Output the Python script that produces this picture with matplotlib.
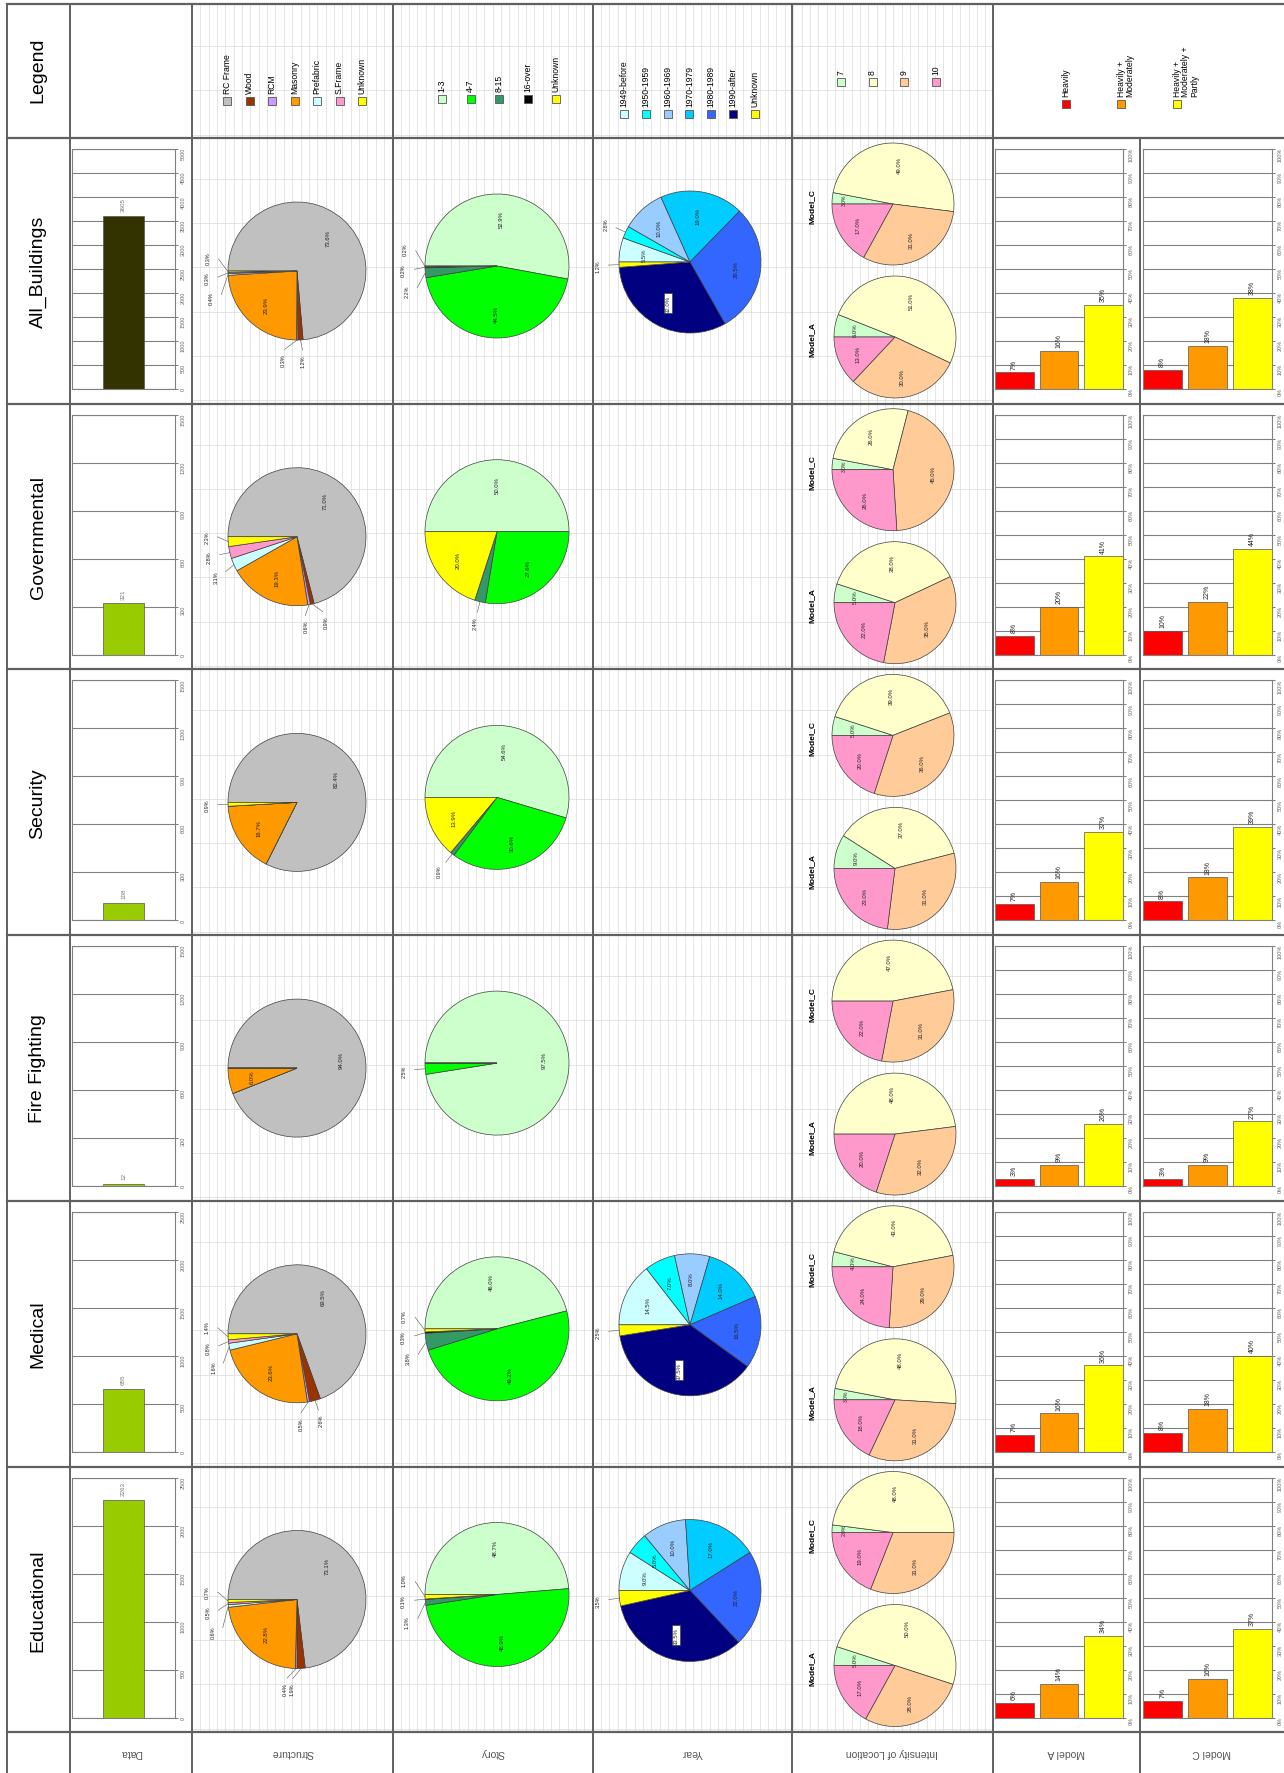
import matplotlib
matplotlib.use('Agg')
import matplotlib.pyplot as plt
import numpy as np
from matplotlib.patches import Rectangle

plt.rcParams['font.family'] = ['Liberation Sans', 'DejaVu Sans']

# ---------------- data ----------------
rows = ["All_Buildings", "Governmental", "Security", "Fire Fighting", "Medical", "Educational"]
bottom_labels = ["Data", "Structure", "Story", "Year", "Intensity of Location", "Model A", "Model C"]

data_counts = [3605, 321, 108, 12, 655, 2263]
data_axis_max = [5000, 1500, 1500, 1500, 2500, 2500]
data_axis_step = [500, 300, 300, 300, 500, 500]

structure_labels = ["RC Frame", "Wood", "RCM", "Masonry", "Prefabric", "S.Frame", "Unknown"]
structure_pct = [
    [73.6, 1.2, 0.3, 23.9, 0.4, 0.3, 0.3],
    [71.0, 0.9, 0.6, 19.3, 3.1, 2.8, 2.3],
    [82.4, 0.0, 0.0, 16.7, 0.0, 0.0, 0.9],
    [94.0, 0.0, 0.0, 6.0, 0.0, 0.0, 0.0],
    [69.5, 2.6, 0.5, 23.6, 1.6, 0.8, 1.4],
    [73.1, 1.9, 0.4, 22.8, 0.6, 0.5, 0.7],
]

story_labels = ["1-3", "4-7", "8-15", "16-over", "Unknown"]
story_pct = [
    [52.9, 44.5, 2.2, 0.2, 0.2],
    [50.0, 27.6, 2.4, 0.0, 20.0],
    [54.6, 30.6, 0.9, 0.0, 13.9],
    [97.5, 2.5, 0.0, 0.0, 0.0],
    [46.0, 49.2, 3.8, 0.3, 0.7],
    [48.7, 48.9, 1.3, 0.1, 1.0],
]

year_labels = ["1949-before", "1950-1959", "1960-1969", "1970-1979", "1980-1989", "1990-after", "Unknown"]
year_pct = [
    [5.5, 2.8, 10.0, 19.0, 29.5, 32.0, 1.2],
    None,
    None,
    None,
    [14.5, 7.0, 8.0, 14.0, 16.5, 37.5, 2.5],
    [9.0, 5.0, 10.0, 17.0, 22.0, 33.5, 3.5],
]

intensity_labels = ["7", "8", "9", "10"]
intensity_C = [
    [3, 49, 31, 17],
    [3, 26, 45, 26],
    [5, 39, 36, 20],
    [0, 47, 31, 22],
    [4, 43, 29, 24],
    [2, 48, 31, 19],
]
intensity_A = [
    [6, 51, 30, 13],
    [5, 38, 35, 22],
    [9, 37, 31, 23],
    [0, 48, 32, 20],
    [3, 48, 31, 18],
    [5, 50, 28, 17],
]

damage_labels = ["Heavily", "Heavily +\nModerately", "Heavily +\nModerately +\nPartly"]
modelA = [[7, 16, 35], [8, 20, 41], [7, 16, 37], [3, 9, 26], [7, 16, 36], [6, 14, 34]]
modelC = [[8, 18, 38], [10, 22, 44], [8, 18, 39], [3, 9, 27], [8, 18, 40], [7, 16, 37]]

# ---------------- styles ----------------
structure_colors = ['#C0C0C0', '#993300', '#CC99FF', '#FF9900', '#CCFFFF', '#FF99CC', '#FFFF00']
story_colors = ['#CCFFCC', '#00FF00', '#339966', '#000000', '#FFFF00']
year_colors = ['#CCFFFF', '#00FFFF', '#99CCFF', '#00CCFF', '#3366FF', '#000080', '#FFFF00']
intensity_colors = ['#CCFFCC', '#FFFFCC', '#FFCC99', '#FF99CC']
damage_colors = ['#FF0000', '#FF9900', '#FFFF00']
data_colors = ['#333300'] + ['#99CC00'] * 5

W, H = 1284, 1774
fig = plt.figure(figsize=(W / 100, H / 100), dpi=100)
bg = fig.add_axes([0, 0, 1, 1])
bg.set_xlim(0, W)
bg.set_ylim(H, 0)
bg.axis('off')


def add_ax(x0, y0, x1, y1):
    return fig.add_axes([x0 / W, 1 - y1 / H, (x1 - x0) / W, (y1 - y0) / H])


ROW0 = 139.0
ROWH = 265.7
row_tops = [ROW0 + ROWH * k for k in range(len(rows))]
BOTTOM = ROW0 + ROWH * len(rows)
col_lines = [7, 70, 192, 393, 593, 792, 993]

# excel-like background grid
for x in np.arange(192, 993, 8.35):
    bg.plot([x, x], [5, BOTTOM], color='#DADADA', lw=0.5, zorder=0)
for y in np.arange(ROW0 - 2 * 46, BOTTOM, ROWH / 6):
    bg.plot([192, 993], [y, y], color='#DADADA', lw=0.5, zorder=0)

# table lines
LC = '#606060'
bg.plot([7, W], [5, 5], color=LC, lw=1.6)
for y in row_tops + [BOTTOM]:
    bg.plot([7, W], [y, y], color=LC, lw=1.6)
for x in col_lines:
    bg.plot([x, x], [5, H], color=LC, lw=1.4)
bg.plot([1140, 1140], [ROW0, H], color=LC, lw=1.4)

# row titles
bg.text(38, 70, "Legend", rotation=90, ha='center', va='center', fontsize=14)
for r, name in enumerate(rows):
    bg.text(38, row_tops[r] + ROWH / 2, name, rotation=90, ha='center', va='center', fontsize=14)

# bottom labels
bottom_centers = [131, 292, 493, 692, 892, 1066, 1212]
for cx, lab in zip(bottom_centers, bottom_labels):
    bg.text(cx, 1753, lab, rotation=180, ha='center', va='center', fontsize=7.5, color='#555555')


# ---------------- legends ----------------
def legend_entries(xs, ysq, labels, colors, fs=6.2, multi=False):
    for x, lab, c in zip(xs, labels, colors):
        bg.add_patch(Rectangle((x - 4, ysq - 4), 8, 8, facecolor=c, edgecolor='#555555', lw=0.6))
        if multi:
            bg.text(x - 4.5, ysq - 8, lab, rotation=90, ha='left', va='bottom', fontsize=fs,
                    multialignment='left', linespacing=1.0)
        else:
            bg.text(x, ysq - 8, lab, rotation=90, ha='center', va='bottom', fontsize=fs)


legend_entries([227 + 22.5 * i for i in range(7)], 102, structure_labels, structure_colors)
legend_entries([442 + 28.5 * i for i in range(5)], 100, story_labels, story_colors)
legend_entries([624 + 21.8 * i for i in range(7)], 115, year_labels, year_colors)
legend_entries([841 + 31.5 * i for i in range(4)], 83, intensity_labels, intensity_colors)
legend_entries([1066, 1121, 1177], 105, damage_labels, damage_colors, multi=True)


# ---------------- pies ----------------
def draw_pie(cx, cy, r, vals, colors, white_box_idx=None, inside_all=False):
    pad = 1.55
    ax = add_ax(cx - r * pad, cy - r * pad, cx + r * pad, cy + r * pad)
    ax.pie(vals, colors=colors, startangle=180, counterclock=False, radius=1.0,
           wedgeprops=dict(edgecolor='#404040', linewidth=0.5))
    ax.set_xlim(-pad, pad)
    ax.set_ylim(-pad, pad)
    ax.set_aspect('equal')
    ax.axis('off')
    total = float(sum(vals))
    cum = 0.0
    smalls = []
    for i, v in enumerate(vals):
        if v <= 0:
            continue
        f = v / total
        mid = 180 - 360 * (cum + f / 2)
        cum += f
        lab = f"{v:.1f}%"
        t = np.deg2rad(mid)
        if f >= 0.04 or inside_all:
            rr = 0.66 if f >= 0.04 else 0.8
            kw = {}
            if white_box_idx is not None and i == white_box_idx:
                kw['bbox'] = dict(facecolor='white', edgecolor='#333333', lw=0.4, pad=1.0)
            ax.text(rr * np.cos(t), rr * np.sin(t), lab, rotation=90, ha='center', va='center',
                    fontsize=4.3 if f >= 0.04 else 3.6, color='#222222', **kw)
        else:
            a = mid if mid > -90 else mid + 360
            smalls.append([a, a, lab])
    if smalls:
        smalls.sort(key=lambda s: s[0])
        sep = 13.0
        pos = [s[0] for s in smalls]
        for k in range(1, len(pos)):
            if pos[k] - pos[k - 1] < sep:
                pos[k] = pos[k - 1] + sep
        shift = (np.mean([s[0] for s in smalls]) - np.mean(pos))
        pos = [p + shift for p in pos]
        for s, p in zip(smalls, pos):
            ta = np.deg2rad(s[0])
            tp = np.deg2rad(p)
            x0, y0 = np.cos(ta), np.sin(ta)
            x1, y1 = 1.15 * np.cos(tp), 1.15 * np.sin(tp)
            ax.plot([x0, x1], [y0, y1], color='#555555', lw=0.4)
            ax.text(1.3 * np.cos(tp), 1.3 * np.sin(tp), s[2], rotation=90, ha='center', va='center',
                    fontsize=4.0, color='#222222')
    return ax


# ---------------- bar helpers ----------------
def style_bar_axis(ax):
    for s in ax.spines.values():
        s.set_color('#808080')
        s.set_linewidth(0.8)
    ax.yaxis.tick_right()
    ax.set_xticks([])
    ax.tick_params(axis='y', labelsize=4, colors='#666666', length=2.5, width=0.6, pad=1.5,
                   labelrotation=90)
    ax.yaxis.grid(True, color='#808080', lw=0.8)
    ax.set_axisbelow(True)


for r in range(len(rows)):
    rt = row_tops[r]
    # Data bar
    ax = add_ax(72, rt + 11, 175, rt + 251)
    ax.bar([0], [data_counts[r]], width=0.4, color=data_colors[r], edgecolor='#555555', lw=0.5)
    ax.set_xlim(-0.5, 0.5)
    ax.set_ylim(0, data_axis_max[r])
    ax.set_yticks(np.arange(0, data_axis_max[r] + 1, data_axis_step[r]))
    style_bar_axis(ax)
    ax.text(0, data_counts[r] + data_axis_max[r] * 0.02, f"{data_counts[r]}", rotation=90,
            ha='center', va='bottom', fontsize=4.5, color='#777777')

    # Structure / Story / Year pies
    draw_pie(297, rt + 133, 69, structure_pct[r], structure_colors)
    draw_pie(497, rt + 128, 72, story_pct[r], story_colors)
    if year_pct[r] is not None:
        draw_pie(690, rt + 124, 71, year_pct[r], year_colors, white_box_idx=5)

    # Intensity pies
    draw_pie(893, rt + 66, 61, intensity_C[r], intensity_colors, inside_all=True)
    draw_pie(895, rt + 199, 61, intensity_A[r], intensity_colors, inside_all=True)
    bg.text(812, rt + 68, "Model_C", rotation=90, ha='center', va='center', fontsize=6, fontweight='bold')
    bg.text(812, rt + 201, "Model_A", rotation=90, ha='center', va='center', fontsize=6, fontweight='bold')

    # Model A / Model C bars
    for x0, x1, vals in [(995, 1123, modelA[r]), (1143, 1272, modelC[r])]:
        ax = add_ax(x0, rt + 11, x1, rt + 251)
        ax.bar(range(3), vals, width=0.86, color=damage_colors, edgecolor='#555555', lw=0.5)
        ax.set_xlim(-0.44, 2.44)
        ax.set_ylim(0, 100)
        ax.set_yticks(np.arange(0, 101, 10))
        ax.set_yticklabels([f"{v}%" for v in range(0, 101, 10)])
        style_bar_axis(ax)
        for i, v in enumerate(vals):
            ax.text(i, v + 1.5, f"{v}%", rotation=90, ha='center', va='bottom', fontsize=5, color='#222222')

fig.savefig('out.png', dpi=100)
